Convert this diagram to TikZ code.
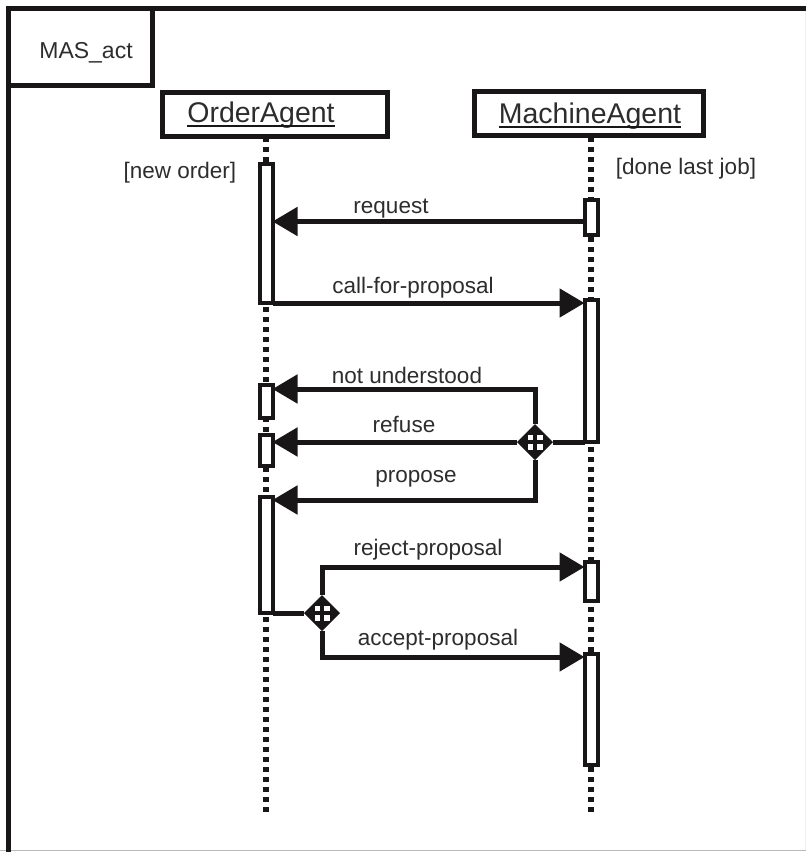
\documentclass[tikz,border=0pt]{standalone}
\usepackage{fontspec}
\setmainfont{Liberation Sans}
\usetikzlibrary{arrows.meta,shapes.geometric}
\definecolor{ink}{RGB}{24,22,22}
\definecolor{txt}{RGB}{45,45,45}
\begin{document}
\begin{tikzpicture}[x=1pt,y=-1pt,
  frameline/.style={line width=5pt, draw=ink},
  headbox/.style={draw=ink, line width=5pt, minimum width=#1, minimum height=44pt, inner sep=0pt},
  headtext/.style={font=\fontsize{28.5}{32}\selectfont, text=txt, inner sep=0pt, anchor=base},
  lbl/.style={font=\fontsize{22.5}{26}\selectfont, text=txt, inner sep=0pt, anchor=base},
  lifeline/.style={line width=5.5pt, draw=ink, dash pattern=on 5pt off 5pt},
  actbar/.style={draw=ink, fill=white, line width=4pt, minimum width=13pt, minimum height=#1, inner sep=0pt, outer sep=0pt},
  msg/.style={line width=5pt, draw=ink, -{Triangle[length=25pt,width=28pt]}},
  conn/.style={line width=5pt, draw=ink},
  xorgate/.style={diamond, fill=ink, minimum width=36pt, minimum height=36pt, inner sep=0pt, outer sep=0pt}]

\useasboundingbox (0,0) rectangle (806,852);

% outer frame and its name tag
\draw[gray!55, line width=1.2pt] (0,850.5) -- (806,850.5);
\draw[gray!12, line width=1pt] (805,10) -- (805,850);
\draw[frameline] (8.5,852) -- (8.5,8.5) -- (806,8.5);
\draw[frameline] (8.5,85) -- (152.5,85) -- (152.5,8.5);
\node[lbl, font=\fontsize{23}{26}\selectfont] (title) at (86,58) {MAS\_act};

% lifeline heads
\node[headbox=225pt] (OA) at (275,114) {};
\node[headbox=229pt] (MA) at (589,113) {};
\node[headtext] (OAtext) at (261,122) {OrderAgent};
\node[headtext] (MAtext) at (590,123) {MachineAgent};
\draw[ink, line width=2pt] ([yshift=-3.5pt]OAtext.base west) -- ([yshift=-3.5pt]OAtext.base east);
\draw[ink, line width=2pt] ([yshift=-3.5pt]MAtext.base west) -- ([yshift=-3.5pt]MAtext.base east);

% lifelines
\coordinate (OAtop) at (266,137);
\coordinate (OAbot) at (266,813);
\coordinate (MAtop) at (591,137);
\coordinate (MAbot) at (591,813);
\draw[lifeline] (OAtop) -- (OAbot);
\draw[lifeline] (MAtop) -- (MAbot);

% guards
\node[lbl] (guardO) at (180,178) {[new order]};
\node[lbl] (guardM) at (686,174) {[done last job]};

% activation bars
\node[actbar=139pt] (A1) at (266,233.5) {};
\node[actbar=33pt]  (A2) at (266,401.5) {};
\node[actbar=31pt]  (A3) at (266,450.5) {};
\node[actbar=116pt] (A4) at (266,555) {};
\node[actbar=35pt]  (B1) at (591,217.5) {};
\node[actbar=142pt] (B2) at (591,371) {};
\node[actbar=39pt]  (B3) at (591,581.5) {};
\node[actbar=111pt] (B4) at (591,709.5) {};

% decision connectors: filled diamond with four white cells
\node[xorgate] (D1) at (535,442) {};
\node[xorgate] (D2) at (322,613) {};
\foreach \g in {D1,D2}{
  \fill[white] ([shift={(-7.5,-7.5)}]\g.center) rectangle ([shift={(-1.8,-1.8)}]\g.center);
  \fill[white] ([shift={(1.8,-7.5)}]\g.center) rectangle ([shift={(7.5,-1.8)}]\g.center);
  \fill[white] ([shift={(-7.5,1.8)}]\g.center) rectangle ([shift={(-1.8,7.5)}]\g.center);
  \fill[white] ([shift={(1.8,1.8)}]\g.center) rectangle ([shift={(7.5,7.5)}]\g.center);
}

% message anchor points
\coordinate (req) at ([yshift=-4pt]B1.west);
\coordinate (nu)  at ([yshift=-4pt]A2.north east);
\coordinate (pr)  at ([yshift=-3pt]A4.north east);
\coordinate (rj)  at ([yshift=-5pt]B3.north west);
\coordinate (ac)  at ([yshift=-3pt]B4.north west);

% messages
\draw[msg] (req) -- (req -| A1.east);
\draw[msg] (A1.south east) -- (A1.south east -| B2.west);
\draw[conn] (B2.south west) -- (D1.east);
\draw[msg] (D1.north) |- (nu);
\draw[msg] (D1.west) -- (D1.west -| A3.east);
\draw[msg] (D1.south) |- (pr);
\draw[conn] (A4.south east) -- (D2.west);
\draw[msg] (D2.north) |- (rj);
\draw[msg] (D2.south) |- (ac);

% message labels
\node[lbl] (lreq) at (391,213) {request};
\node[lbl] (lcfp) at (413,293) {call-for-proposal};
\node[lbl] (lnu)  at (407,383) {not understood};
\node[lbl] (lref) at (404,432) {refuse};
\node[lbl] (lpro) at (416,482) {propose};
\node[lbl] (lrej) at (428,555) {reject-proposal};
\node[lbl] (lacc) at (438,645) {accept-proposal};
\end{tikzpicture}
\end{document}
